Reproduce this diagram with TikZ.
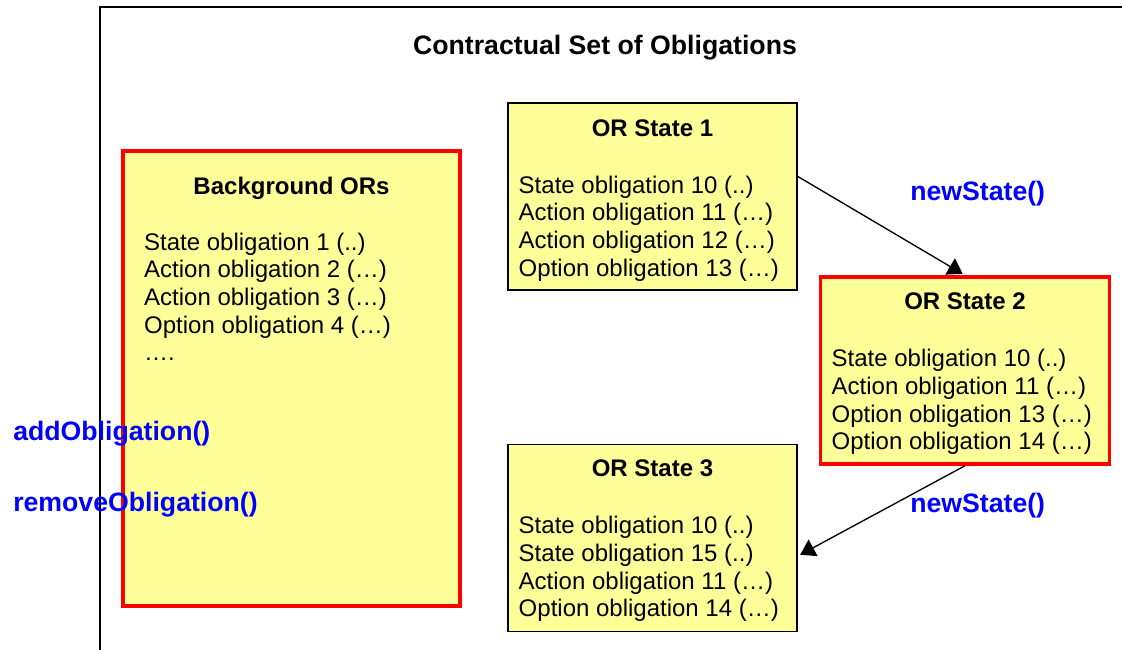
\documentclass[tikz,border=0pt]{standalone}
\usepackage{fontspec}
\setmainfont{Liberation Sans}
\usetikzlibrary{positioning,arrows.meta}
\definecolor{orfill}{HTML}{FFFF99}
\definecolor{orred}{HTML}{FF0000}
\definecolor{opblue}{HTML}{0000FF}

\begin{document}
\begin{tikzpicture}[x=0.75pt,y=-0.75pt,
        orbox/.style={draw=black, line width=1.3pt, fill=orfill, minimum width=216.75pt, minimum height=140.25pt, inner sep=0pt},
        redbox/.style={orbox, draw=orred, line width=2.6pt},
        head/.style={font=\fontsize{18}{20.75}\selectfont\bfseries, inner sep=0pt},
        oblist/.style={font=\fontsize{18}{20.75}\selectfont, align=left, inner sep=0pt},
        opname/.style={font=\fontsize{20}{24}\selectfont\bfseries, text=opblue, inner sep=0pt, anchor=west},
        move/.style={-{Triangle[width=14pt,length=11pt]}, line width=1pt, shorten >=2pt}]
    \useasboundingbox (0,0) rectangle (1122,650);
    \draw[line width=1.1pt] (100,650) |- (1122,7);
    \node[font=\fontsize{20}{24}\selectfont\bfseries, inner sep=0pt] (title) at (605,48) {Contractual Set of Obligations};

    \node[redbox, minimum width=252.75pt, minimum height=341.25pt] (bg) at (291.5,378.5) {};
    \node[orbox] (s1) at (652.5,196.5) {};
    \node[redbox] (s2) at (965,370.5) {};
    \node[orbox] (s3) at (652.5,538) {};

    \node[head, below=21pt of bg.north] (bgh) {Background ORs};
    \node[oblist, below right=62.5pt and 17pt of bg.north west] (bgl) {State obligation 1 (..)\\Action obligation 2 (…)\\Action obligation 3 (…)\\Option obligation 4 (…)\\….};
    \node[head, below=12.75pt of s1.north] (s1h) {OR State 1};
    \node[oblist, below right=55pt and 8.5pt of s1.north west] (s1l) {State obligation 10 (..)\\Action obligation 11 (…)\\Action obligation 12 (…)\\Option obligation 13 (…)};
    \node[head, below=12.75pt of s2.north] (s2h) {OR State 2};
    \node[oblist, below right=55.5pt and 9.5pt of s2.north west] (s2l) {State obligation 10 (..)\\Action obligation 11 (…)\\Option obligation 13 (…)\\Option obligation 14 (…)};
    \node[head, below=12pt of s3.north] (s3h) {OR State 3};
    \node[oblist, below right=54.5pt and 8.5pt of s3.north west] (s3l) {State obligation 10 (..)\\State obligation 15 (..)\\Action obligation 11 (…)\\Option obligation 14 (…)};

    \draw[move] ([yshift=15pt]s1.east) -- (s2.north);
    \draw[move] (s2.south) -- ([yshift=-13.5pt]s3.east);

    \node[opname] (ns1) at (910,194) {newState()};
    \node[opname] (ns2) at (910,506) {newState()};
    \node[opname] (addop) at (13,434) {addObligation()};
    \node[opname] (remop) at (13,505) {removeObligation()};
\end{tikzpicture}
\end{document}
